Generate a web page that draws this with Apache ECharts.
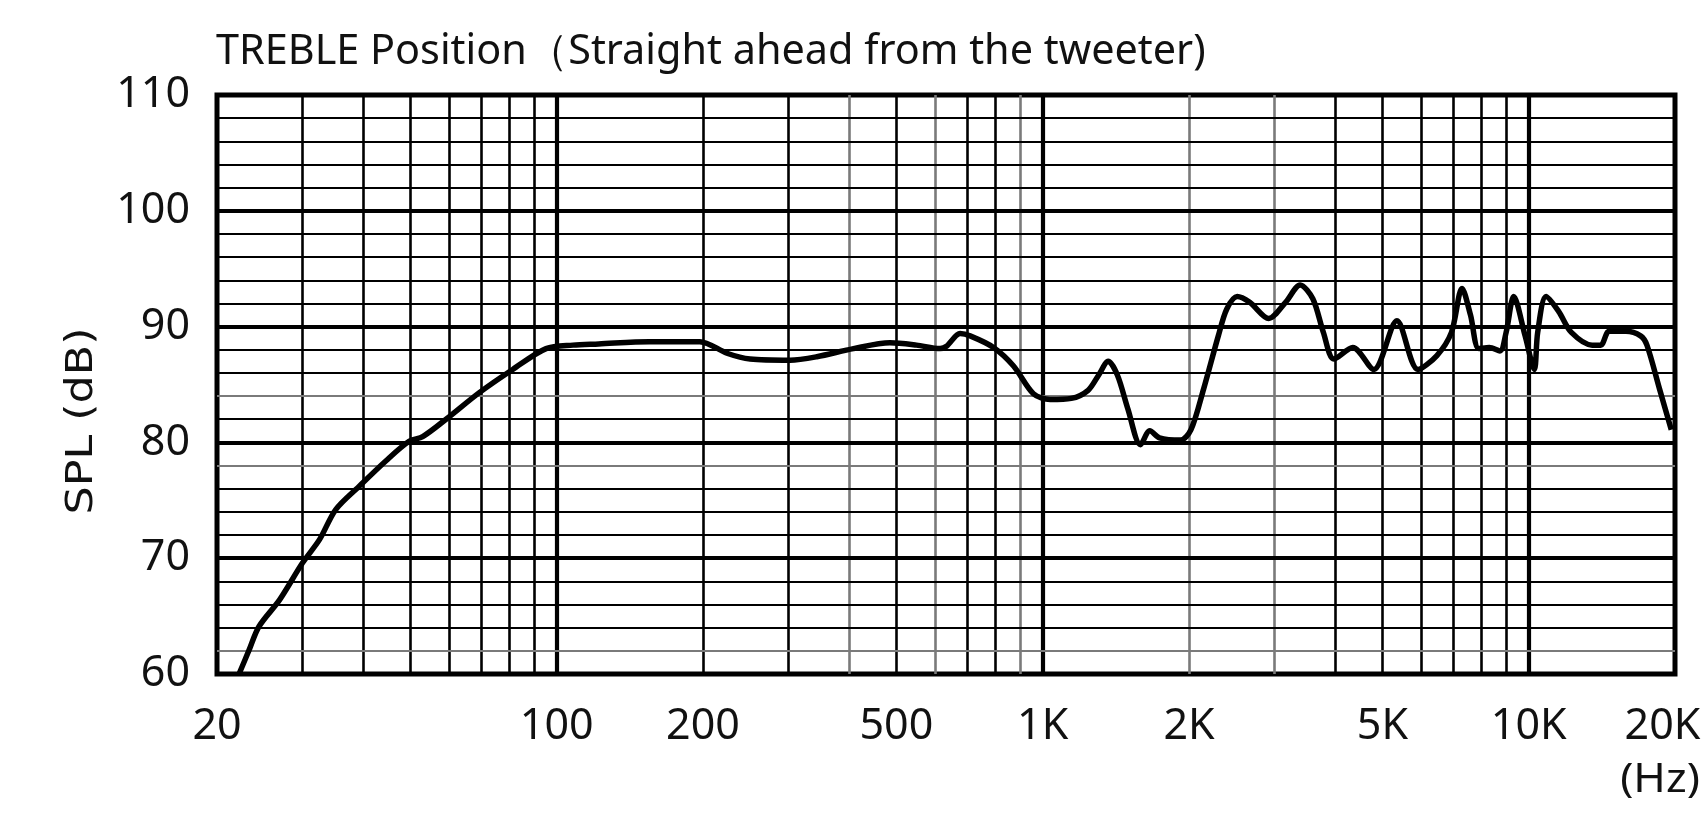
<!DOCTYPE html>
<html>
<head>
<meta charset="utf-8">
<script src="https://cdn.jsdelivr.net/npm/echarts@6.0.0/dist/echarts.min.js"></script>
<style>
html,body{margin:0;padding:0;background:#fff;}
#chart{width:1708px;height:815px;}
</style>
</head>
<body>
<div id="chart"></div>
<script>
// ---- data ----
const freqHz = [22.2, 23.3, 24.4, 26.9, 30.0, 32.5, 35.1, 39.2, 44.5, 49.7, 53.0, 59.2, 69.3, 81.2, 95.1,
  108, 122, 155, 197, 224, 250, 302, 343, 408, 485, 550, 615, 634, 676, 709, 792, 871, 957,
  1036, 1145, 1240, 1303, 1364, 1425, 1497, 1589, 1661, 1739, 1921, 2019, 2143, 2298, 2391, 2513,
  2667, 2917, 3160, 3387, 3596, 3780, 3974, 4345, 4800, 5356, 5918, 6473, 6935, 7291, 7590, 7896,
  8298, 8722, 8986, 9316, 9831, 10270, 10435, 10860, 11530, 12240, 13510, 14070, 14640, 15850,
  16990, 17510, 18590, 19650];
const splDb = [60.0, 62.1, 64.1, 66.4, 69.6, 71.6, 74.2, 76.2, 78.4, 80.1, 80.5, 82.0, 84.3, 86.3, 88.1,
  88.4, 88.5, 88.7, 88.7, 87.7, 87.2, 87.1, 87.4, 88.1, 88.6, 88.4, 88.1, 88.3, 89.4, 89.2, 88.2, 86.6, 84.2,
  83.7, 83.8, 84.5, 85.8, 87.0, 85.8, 82.9, 79.8, 81.0, 80.4, 80.2, 81.1, 84.6, 89.2, 91.5, 92.6,
  92.1, 90.7, 92.1, 93.6, 92.4, 89.5, 87.2, 88.2, 86.3, 90.5, 86.3, 87.5, 89.5, 93.3, 91.0, 88.1,
  88.2, 87.9, 89.5, 92.6, 89.2, 86.3, 89.5, 92.6, 91.3, 89.5, 88.4, 88.4, 89.6, 89.6,
  89.2, 88.4, 84.6, 81.1];

const xTickValues = [20, 100, 200, 500, 1000, 2000, 5000, 10000, 20000];
const xTickLabels = ['20', '100', '200', '500', '1K', '2K', '5K', '10K', '20K'];
const yTickValues = [60, 70, 80, 90, 100, 110];

const xGridMinor = [30, 40, 50, 60, 70, 80, 90, 200, 300, 400, 500, 600, 700, 800, 900,
  2000, 3000, 4000, 5000, 6000, 7000, 8000, 9000];
const xGridMajor = [100, 1000, 10000];
const yGridMinor = [62, 64, 66, 68, 72, 74, 76, 78, 82, 84, 86, 88, 92, 94, 96, 98, 102, 104, 106, 108];
const yGridMajor = [70, 80, 90, 100];

const titleText = 'TREBLE Position（Straight ahead from the tweeter)';
const yAxisTitle = 'SPL (dB)';
const xAxisUnit = '(Hz)';

// ---- style (not data) ----
const fadedX = [400, 600, 900, 2000, 3000];
const fadedY = [62, 78, 84];
const FONT = '"Noto Sans", "DejaVu Sans", sans-serif';
const INK = '#111';

const chart = echarts.init(document.getElementById('chart'), null, {renderer: 'canvas'});

function labelIndex(v) {
  let best = 0, bd = Infinity;
  xTickValues.forEach((t, i) => {
    const d = Math.abs(Math.log10(v) - Math.log10(t));
    if (d < bd) { bd = d; best = i; }
  });
  return best;
}

const gridLines = [];
xGridMinor.forEach(v => gridLines.push({xAxis: v, lineStyle: {color: fadedX.includes(v) ? '#7a7a7a' : '#000', width: 2.6, type: 'solid'}}));
xGridMajor.forEach(v => gridLines.push({xAxis: v, lineStyle: {color: '#000', width: 4.2, type: 'solid'}}));
yGridMinor.forEach(v => gridLines.push({yAxis: v, lineStyle: {color: fadedY.includes(v) ? '#7a7a7a' : '#000', width: 2.2, type: 'solid'}}));
yGridMajor.forEach(v => gridLines.push({yAxis: v, lineStyle: {color: '#000', width: 3.8, type: 'solid'}}));

const option = {
  animation: false,
  backgroundColor: '#fff',
  grid: {left: 217, right: 33, top: 95, bottom: 141, show: true, borderColor: '#000', borderWidth: 5, containLabel: false},
  xAxis: {
    type: 'log', logBase: 10, min: 20, max: 20000,
    axisLine: {show: false}, axisTick: {show: false}, splitLine: {show: false}, minorSplitLine: {show: false},
    axisLabel: {
      customValues: xTickValues,
      fontFamily: FONT, fontSize: 43, color: INK, margin: 31,
      formatter: function (v) {
        const i = labelIndex(v);
        if (i === xTickValues.length - 1) return '{r|' + xTickLabels[i] + '}';
        return xTickLabels[i];
      },
      rich: {r: {fontFamily: FONT, fontSize: 43, color: INK, padding: [0, 25, 0, 0]}}
    }
  },
  yAxis: {
    type: 'value', min: yTickValues[0], max: yTickValues[yTickValues.length - 1], interval: 10,
    axisLine: {show: false}, axisTick: {show: false}, splitLine: {show: false},
    axisLabel: {fontFamily: FONT, fontSize: 43, color: INK, margin: 27}
  },
  graphic: [
    {type: 'text', x: 216, y: 52, scaleX: 0.985,
      style: {text: titleText, font: '42px ' + FONT, fill: INK, textAlign: 'left', textVerticalAlign: 'middle'}},
    {type: 'text', x: 82, y: 421, rotation: Math.PI / 2, scaleX: 1.2,
      style: {text: yAxisTitle, font: '37px "DejaVu Sans", "Noto Sans", sans-serif', fill: INK, textAlign: 'center', textVerticalAlign: 'middle'}},
    {type: 'text', x: 1660, y: 781, scaleX: 1.1,
      style: {text: xAxisUnit, font: '40px ' + FONT, fill: INK, textAlign: 'center', textVerticalAlign: 'middle'}}
  ],
  series: [
    {
      type: 'line', data: [], z: 2, silent: true,
      markLine: {silent: true, symbol: 'none', label: {show: false}, animation: false, emphasis: {disabled: true}, data: gridLines}
    },
    {
      type: 'line', z: 5, silent: true, smooth: 0.3, symbol: 'none', showSymbol: false,
      data: freqHz.map((f, i) => [f, splDb[i]]),
      lineStyle: {color: '#000', width: 5.5}
    }
  ]
};
chart.setOption(option);
</script>
</body>
</html>
